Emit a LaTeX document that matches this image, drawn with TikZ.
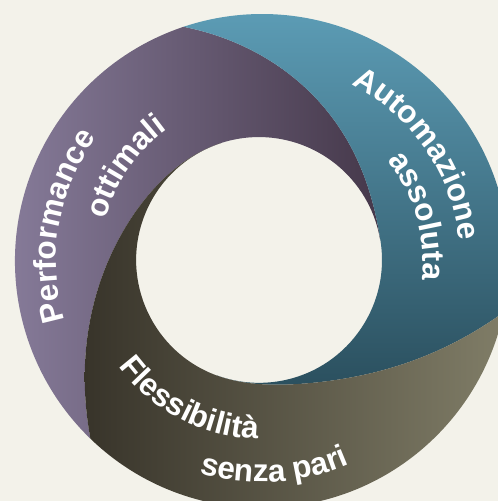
\documentclass[tikz,border=0pt]{standalone}
\usepackage{fontspec}
\usetikzlibrary{decorations.text}
\newfontfamily\lblfont{Liberation Sans}
\newcommand\lblstyle{\lblfont\bfseries\fontsize{31.5}{36}\selectfont}
\definecolor{bgc}{HTML}{F3F2EA}
\definecolor{purL}{HTML}{8A7F9E}
\definecolor{purM}{HTML}{625569}
\definecolor{purD}{HTML}{45384A}
\definecolor{bluL}{HTML}{5C9CB5}
\definecolor{bluM}{HTML}{3F7A90}
\definecolor{bluD}{HTML}{2B505F}
\definecolor{oliD}{HTML}{38342A}
\definecolor{oliM}{HTML}{5B5745}
\definecolor{oliL}{HTML}{807D67}
\tikzset{
  declare function={
    fq(\t)=1-(1-\t)*(1-\t);
    fc(\t)=1-(1-\t)*(1-\t)*(1-\t);
    bx(\a,\f)=(1-\f)*(262+247*cos(\a))+\f*(259+123*cos(\a));
    by(\a,\f)=(1-\f)*(240+247*sin(\a))+\f*(241+123*sin(\a));
  },
  lbl/.style={decorate, decoration={text along path, text align=center, text color=white, text={|\lblstyle|#1}}}
}
\begin{document}
\begin{tikzpicture}[x=1pt,y=1pt]
\useasboundingbox (0,0) rectangle (498,501);
\fill[bgc] (0,0) rectangle (498,501);
\begin{scope}
\clip (0,0) rectangle (498,501);
% purple segment
\shade[left color=purL, middle color=purM, right color=purD]
  ([shift={(262,240)}]108.5:247) arc[start angle=108.5, end angle=226, radius=247]
  -- plot[domain=0:1, samples=60, variable=\t] ({bx(226-118*\t, fc(\t))}, {by(226-118*\t, fc(\t))})
  arc[start angle=108, end angle=8.5, radius=123]
  -- plot[domain=1:0, samples=60, variable=\t] ({bx(108.5-100*\t, fq(\t))}, {by(108.5-100*\t, fq(\t))})
  -- cycle;
% blue segment
\shade[top color=bluL, middle color=bluM, bottom color=bluD]
  ([shift={(262,240)}]-12:247) arc[start angle=-12, end angle=108.5, radius=247]
  -- plot[domain=0:1, samples=60, variable=\t] ({bx(108.5-100*\t, fq(\t))}, {by(108.5-100*\t, fq(\t))})
  arc[start angle=8.5, end angle=-110, radius=123]
  -- plot[domain=1:0, samples=60, variable=\t] ({bx(348-98*\t, fc(\t))}, {by(348-98*\t, fc(\t))})
  -- cycle;
% olive segment
\shade[left color=oliD, middle color=oliM, right color=oliL]
  ([shift={(262,240)}]226:247) arc[start angle=226, end angle=348, radius=247]
  -- plot[domain=0:1, samples=60, variable=\t] ({bx(348-98*\t, fc(\t))}, {by(348-98*\t, fc(\t))})
  arc[start angle=250, end angle=108, radius=123]
  -- plot[domain=1:0, samples=60, variable=\t] ({bx(226-118*\t, fc(\t))}, {by(226-118*\t, fc(\t))})
  -- cycle;
\end{scope}
% labels
\path[lbl=Performance] ([shift={(262,240)}]198:206) arc[start angle=198, end angle=142, radius=206];
\path[lbl=ottimali] ([shift={(262,240)}]166:162) arc[start angle=166, end angle=125, radius=162];
\path[lbl=Automazione] ([shift={(262,240)}]64:198) arc[start angle=64, end angle=5, radius=198];
\path[lbl=assoluta] ([shift={(262,240)}]38:161) arc[start angle=38, end angle=-6, radius=161];
\path[lbl=Flessibilità] ([shift={(262,240)}]215:178) arc[start angle=215, end angle=270, radius=178];
\path[lbl={senza pari}] ([shift={(262,240)}]253:221) arc[start angle=253, end angle=294, radius=221];
\end{tikzpicture}
\end{document}
